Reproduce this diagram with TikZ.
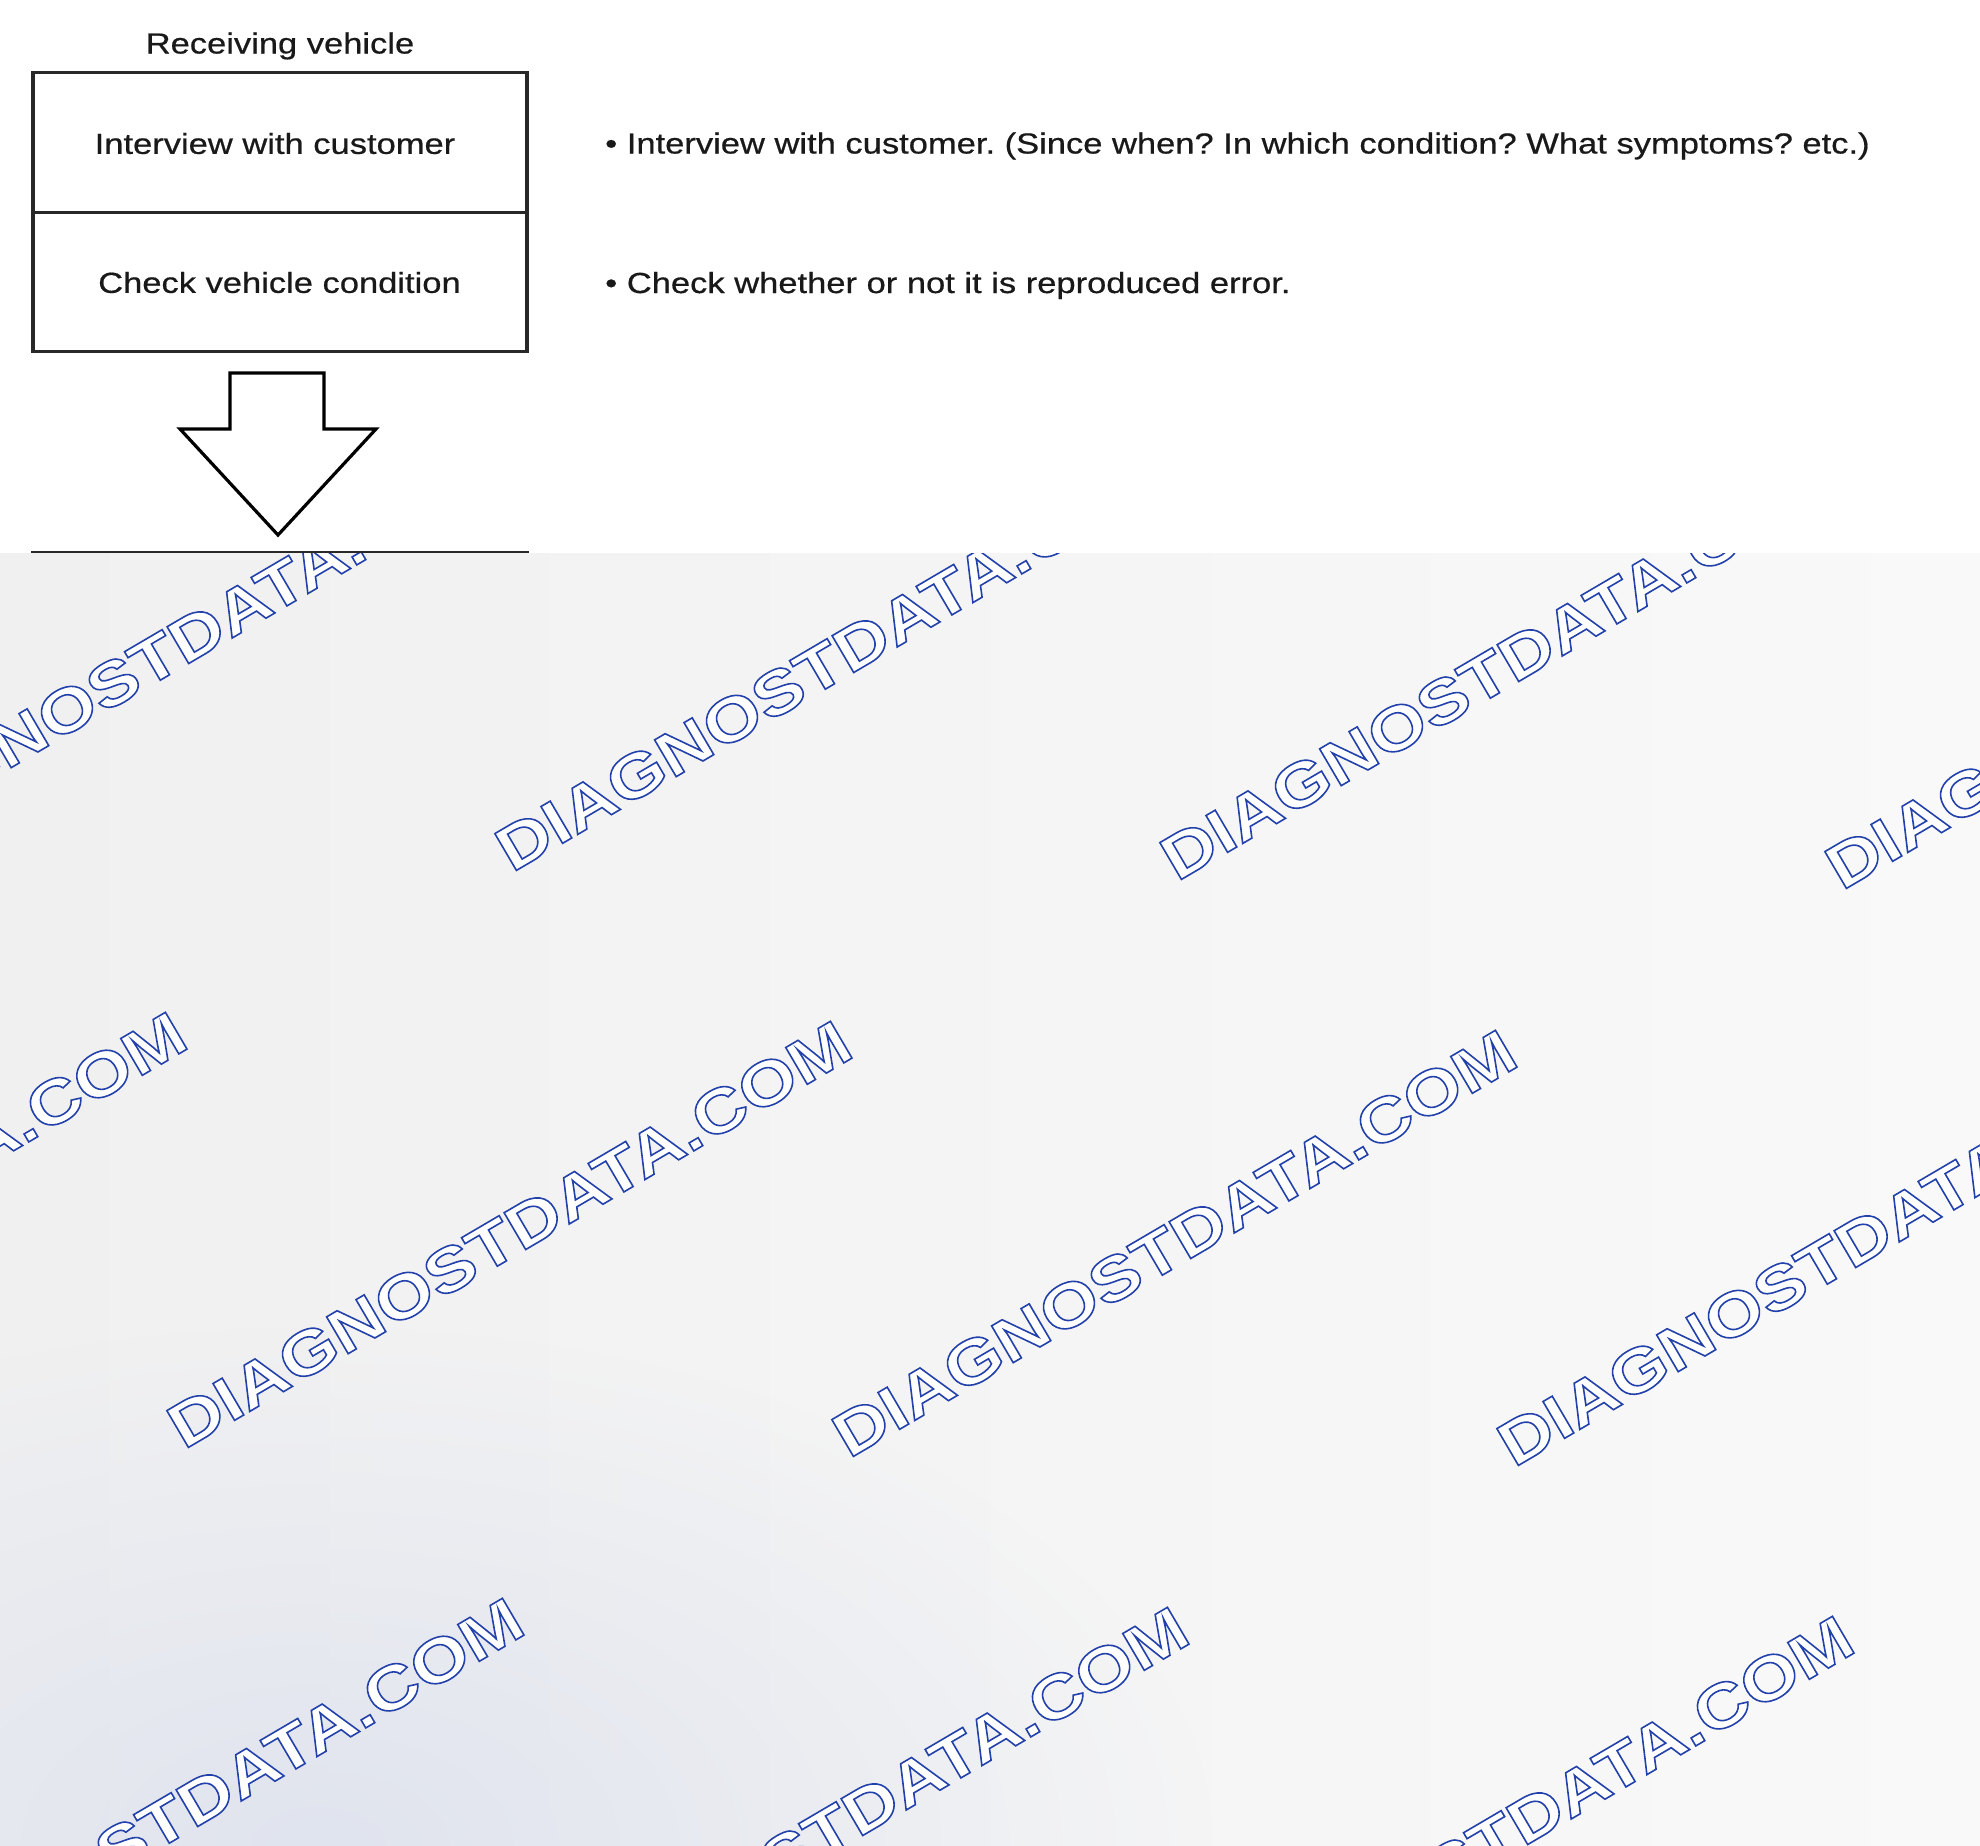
\documentclass[tikz,border=0pt]{standalone}
\usepackage{fontspec}
\setmainfont{Liberation Sans}[FakeStretch=1.19, FakeBold=0.6]
\newfontfamily\wmfont{Liberation Sans Bold}[FakeStretch=1.195]
\usetikzlibrary{fadings}
\definecolor{ink}{RGB}{25,25,25}
\definecolor{boxline}{RGB}{40,40,40}
\definecolor{bgL}{RGB}{240,240,241}
\definecolor{bgR}{RGB}{249,249,249}
\definecolor{bgblue}{RGB}{224,228,238}
\tikzfading[name=softblob, inner color=transparent!0, outer color=transparent!100]
\newcommand\bodyfont{\fontsize{29}{34}\selectfont\frenchspacing}
\newcommand\outlinetext[1]{\special{pdf:literal direct 1 g 0.137 0.255 0.667 RG 1.6 w 2 Tr}#1\special{pdf:literal direct 0 Tr}}
\tikzset{
  box/.style={draw=boxline, line width=3.2pt, minimum width=494pt, minimum height=139.5pt, inner sep=0pt},
  txt/.style={font=\bodyfont, text=ink, inner sep=0pt},
  arrowshape/.style={draw=black, line width=3.2pt, line join=miter, fill=white},
  wm/.style={rotate=30.4, anchor=base west, inner sep=0pt, font=\wmfont\fontsize{62}{62}\selectfont},
}
\begin{document}
\begin{tikzpicture}[x=1pt,y=-1pt]
\useasboundingbox (0,0) rectangle (1980,1845);
\fill[white] (0,0) rectangle (1980,1845);
% flow chart
\node[txt, anchor=base] (recv) at (280,53.5) {Receiving vehicle};
\node[box] (interview) at (280,142.5) {};
\node[txt] (interviewtxt) at (275,143.5) {Interview with customer};
\node[box] (check) at (280,282) {};
\node[txt] (checktxt) at (279.5,282.5) {Check vehicle condition};
\coordinate (a1) at (230,373);
\coordinate (a2) at (324,373);
\coordinate (a3) at (324,429);
\coordinate (a4) at (376,429);
\coordinate (a5) at (278,535);
\coordinate (a6) at (180,429);
\coordinate (a7) at (230,429);
\draw[arrowshape] (a1) -- (a2) -- (a3) -- (a4) -- (a5) -- (a6) -- (a7) -- cycle;
\node[box, anchor=north] (next) at (280,551) {};
% notes
\node[txt, anchor=base west] (note1) at (605,153.5) {\textbullet\ Interview with customer. (Since when? In which condition? What symptoms? etc.)};
\node[txt, anchor=base west] (note2) at (605,293) {\textbullet\ Check whether or not it is reproduced error.};
% grey overlay with watermark
\fill[left color=bgL, right color=bgR] (0,553) rectangle (1980,1845);
\begin{scope}
\clip (0,553) rectangle (1980,1845);
\fill[bgblue, path fading=softblob] (320,1845) ellipse [x radius=900, y radius=520];
\foreach \r in {0,1,2}{
  \foreach \c in {-1,0,1,2,3}{
    \node[wm] (wm-\r-\c) at ({512-328*\r+665*(\c-1)},{873+577*\r+9*(\c-1)})
      {\outlinetext{DIAGNOSTDATA.COM}};
  }
}
\end{scope}
\end{tikzpicture}
\end{document}
